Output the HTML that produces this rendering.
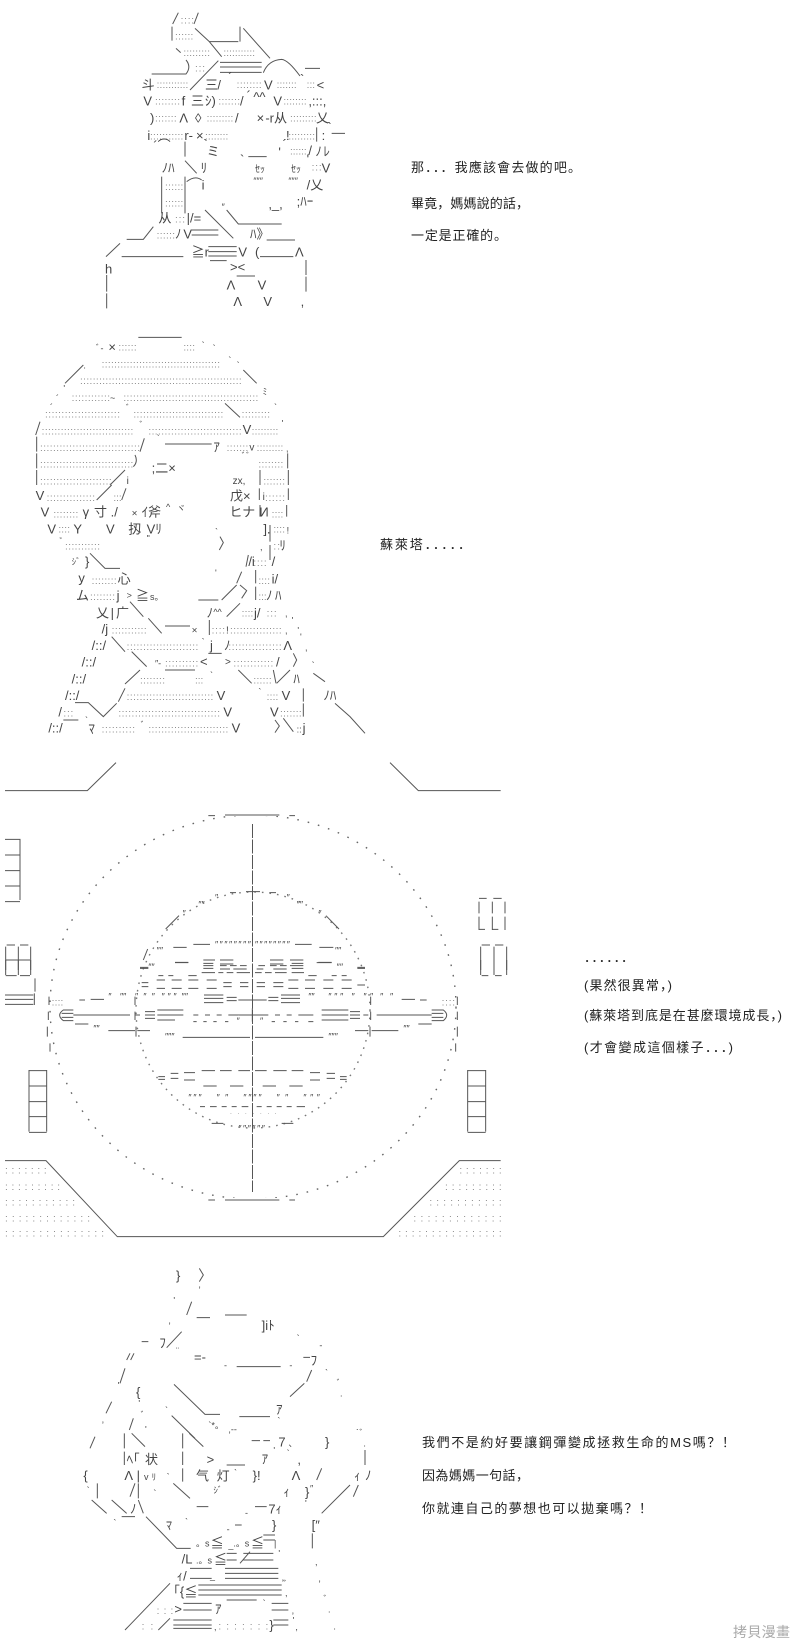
<!DOCTYPE html>
<html><head><meta charset="utf-8"><style>
html,body{margin:0;padding:0;background:#fff}
svg{display:block}
text{font-family:"Liberation Sans","Noto Sans CJK JP",sans-serif;fill:#444}
.z text{font-size:39px}
.z text.d{font-size:30px;fill:#888}
.z text.q{font-size:27px}
.s{fill:none;stroke:#555;stroke-width:3}
.b text{font-family:"Liberation Sans","Noto Sans CJK SC",sans-serif;font-size:13px;fill:#222}
</style></head><body>
<svg width="800" height="1650" viewBox="0 0 800 1650" xmlns="http://www.w3.org/2000/svg">
<rect width="800" height="1650" fill="#fff"/>

<!-- panel 1 -->
<g class="z" transform="translate(90,0) scale(.33333)">
<path class="s" d="M265 38L248 72M325 38L312 72M246 80V122M315 85L358 125H445M450 80V125M460 85L540 175M358 125L395 170M258 145L272 158M288 180Q305 200 288 222H185M390 187H515M390 201H515M390 217H515M385 182L300 270M520 218Q535 180 575 178Q595 180 630 228M645 205H690M725 400H765M680 382V425M285 425V470M285 482L320 520M475 470H530M215 530V640M285 530V640M290 545Q315 525 335 540M345 630L430 715M410 630L445 672H575M190 680L160 718H110M305 690H385M305 705H385M530 720H615M90 730L48 770M95 770H280M355 740H440M355 755H440M355 768H440M510 770H610M648 780V825M360 782H410M50 825V875M648 830V875M50 880V925M440 828H495"/>
<text class="d" x="272" y="70" textLength="40">::::</text>
<text class="d" x="255" y="118" textLength="55">::::::</text>
<text class="d" x="280" y="168" textLength="80">:::::::::</text>
<text class="d" x="400" y="168" textLength="95">:::::::::::</text>
<text class="d" x="315" y="214" textLength="30">:::</text>
<text class="d" x="200" y="264" textLength="95">:::::::::::</text>
<text class="d" x="440" y="264" textLength="75">::::::::</text>
<text class="d" x="560" y="264" textLength="60">:::::::</text>
<text class="d" x="650" y="264" textLength="25">:::</text>
<text class="d" x="195" y="314" textLength="75">::::::::</text>
<text class="d" x="385" y="314" textLength="65">:::::::</text>
<text class="d" x="580" y="314" textLength="70">::::::::</text>
<text class="d" x="195" y="364" textLength="65">:::::::</text>
<text class="d" x="350" y="364" textLength="80">:::::::::</text>
<text class="d" x="600" y="364" textLength="80">:::::::::</text>
<text class="d" x="180" y="418" textLength="100">:::::::::::</text>
<text class="d" x="345" y="418" textLength="70">::::::::</text>
<text class="d" x="595" y="418" textLength="80">:::::::::</text>
<text class="d" x="600" y="464" textLength="50">::::::</text>
<text class="d" x="665" y="512" textLength="30">:::</text>
<text class="d" x="225" y="570" textLength="55">::::::</text>
<text class="d" x="225" y="620" textLength="55">::::::</text>
<text class="d" x="255" y="668" textLength="30">:::</text>
<text class="d" x="200" y="716" textLength="55">::::::</text>
<text x="155" y="268">斗</text>
<text x="345" y="268">三</text><text x="382" y="268">/</text><text x="415" y="245">´</text>
<text x="522" y="268">V</text><text x="630" y="250">`</text><text x="680" y="268">&lt;</text>
<text x="160" y="317">V</text><text x="275" y="317">f</text><text x="303" y="317">三</text><text x="345" y="317">ｼ)</text>
<text x="450" y="317">/</text><text x="470" y="300">´</text><text x="490" y="305">^^</text><text x="550" y="317">V</text><text x="655" y="317">,:::,</text>
<text x="180" y="367">)</text><text x="268" y="367">Λ</text><text x="315" y="367">◊</text><text x="435" y="367">/</text>
<text x="500" y="367">×</text><text x="526" y="367">-r</text><text x="552" y="367">从</text><text x="678" y="367">乂</text>
<text x="172" y="420">i</text><text x="283" y="420">r-</text><text x="318" y="420">×</text><text x="588" y="420">!</text><text x="695" y="420">:</text><text x="712" y="395">`</text>
<text x="190" y="450">´⌒</text><text x="340" y="445">`</text><text x="350" y="468">ミ</text><text x="578" y="445">´</text><text x="655" y="465">/</text><text x="676" y="468">ﾉ</text><text x="700" y="468">ﾚ</text>
<text x="215" y="518">ﾉﾊ</text><text x="332" y="518">ﾘ</text><text x="450" y="492">`</text><text x="565" y="470">'</text><text x="495" y="518" style="font-size:30px">ｾｯ</text><text x="603" y="518" style="font-size:30px">ｾｯ</text><text x="650" y="490">'</text><text x="695" y="518">V</text>
<text x="490" y="552" class="q">″″″</text><text x="595" y="552" class="q">″″″</text><text x="335" y="568">i</text><text x="650" y="568">/乂</text>
<text x="535" y="625">,_,</text><text x="620" y="618">;ﾊｰ</text>
<text x="205" y="668">从</text><text x="290" y="668">|/=</text><text x="395" y="630" class="q">″</text>
<text x="255" y="716">ﾉ</text><text x="280" y="716">V</text><text x="480" y="716">ﾊ》</text>
<text x="305" y="770">≧r</text><text x="445" y="770">V</text><text x="495" y="770">(</text><text x="615" y="770">Λ</text>
<text x="45" y="820">h</text><text x="420" y="815">&gt;&lt;</text>
<text x="410" y="868">Λ</text><text x="503" y="868">V</text>
<text x="430" y="918">Λ</text><text x="520" y="918">V</text><text x="632" y="918">,</text>
</g>

<!-- panel 2 top -->
<g class="z" transform="translate(20,320) scale(.33333)">
<path class="s" d="M355 52H485M670 150L710 190M190 135L135 190M615 250L660 292M60 305L47 345M50 350V395M373 355L360 395M435 372H575M50 400V445M345 405Q355 425 340 440M803 400V445M50 450V495M315 450L270 495M720 450V495M805 450V495M275 495L230 540M318 505L305 540M718 505V540M805 505V540M720 555V590M800 555V590"/>
<text class="d" x="295" y="92" textLength="55">::::::</text>
<text class="d" x="490" y="92" textLength="35">::::</text>
<text class="d" x="245" y="142" textLength="355">::::::::::::::::::::::::::::::::::::::</text>
<text class="d" x="180" y="192" textLength="485">:::::::::::::::::::::::::::::::::::::::::::::::::::</text>
<text class="d" x="155" y="243" textLength="115">::::::::::::</text>
<text class="d" x="310" y="243" textLength="405">::::::::::::::::::::::::::::::::::::::::::</text>
<text class="d" x="75" y="292" textLength="225">:::::::::::::::::::::::</text>
<text class="d" x="340" y="292" textLength="270">::::::::::::::::::::::::::::</text>
<text class="d" x="665" y="292" textLength="85">:::::::::</text>
<text class="d" x="65" y="343" textLength="275">:::::::::::::::::::::::::::::</text>
<text class="d" x="385" y="343" textLength="280">:::::::::::::::::::::::::::::</text>
<text class="d" x="695" y="343" textLength="80">:::::::::</text>
<text class="d" x="60" y="393" textLength="300">:::::::::::::::::::::::::::::::</text>
<text class="d" x="620" y="393" textLength="65">:::::::</text>
<text class="d" x="710" y="393" textLength="80">:::::::::</text>
<text class="d" x="60" y="443" textLength="280">:::::::::::::::::::::::::::::</text>
<text class="d" x="715" y="443" textLength="75">::::::::</text>
<text class="d" x="60" y="493" textLength="215">::::::::::::::::::::::</text>
<text class="d" x="730" y="493" textLength="65">:::::::</text>
<text class="d" x="80" y="543" textLength="145">:::::::::::::::</text>
<text class="d" x="280" y="543" textLength="25">:::</text>
<text class="d" x="735" y="543" textLength="60">::::::</text>
<text class="d" x="100" y="592" textLength="75">::::::::</text>
<text class="d" x="755" y="592" textLength="35">::::</text>
<text x="228" y="95" class="q">ﾞ-</text><text x="265" y="95">×</text><text x="545" y="85" class="q">`</text><text x="578" y="95" class="q">`</text>
<text x="625" y="130" class="q">`</text><text x="650" y="145" class="q">`</text><text x="190" y="145" class="q">.</text><text x="130" y="215" class="q">'</text><text x="108" y="245" class="q">´</text><text x="728" y="225" class="q">ﾐ</text>
<text x="270" y="243" class="q">~</text><text x="90" y="272" class="q">´</text><text x="318" y="275" class="q">ﾞ</text><text x="762" y="272" class="q">`</text>
<text x="668" y="342">V</text><text x="358" y="325" class="q">ﾞ</text><text x="785" y="320" class="q">'</text>
<text x="410" y="365" class="q">`</text><text x="580" y="395">ｱ</text><text x="688" y="392" style="font-size:30px">v</text><text x="798" y="395" class="q">,</text>
<text x="395" y="457">;二×</text><text x="665" y="418" class="q">ﾞﾞ</text>
<text x="320" y="492" style="font-size:30px">i</text><text x="638" y="492" style="font-size:30px">zx,</text>
<text x="47" y="540">V</text><text x="630" y="542">戊×</text><text x="728" y="540" style="font-size:30px">i</text>
<text x="62" y="590">V</text><text x="188" y="590">γ</text><text x="222" y="590">寸</text><text x="272" y="590">./</text><text x="335" y="590" style="font-size:30px">×</text><text x="365" y="590">ｲ斧</text><text x="438" y="570" class="q">^</text><text x="470" y="575" class="q">ヾ</text><text x="628" y="590">ヒナ</text><text x="718" y="590">И</text>
</g>

<!-- panel 2 bottom -->
<g class="z" transform="translate(20,520) scale(.33333)">
<path class="s" d="M750 15V65M750 75V120M600 50L610 68L598 90M210 100L255 145H300M707 150V190M665 155L650 190M685 105L678 140M650 195L605 240M535 240H595M707 200V240M660 195L680 212L665 235M330 245L370 290M660 250L620 290M385 295L425 340M435 318H510M568 300V345M275 350L315 395M335 395L380 440M565 400H605M820 400L830 420L820 440M360 450L315 492M435 450H525M655 450L695 490M810 450L770 490M760 450L768 490M315 505L295 545M850 505V545M165 548H205L250 590L290 550M850 550V590M945 550L990 590L1035 640M130 600H175M790 595L820 635M765 600L778 618L765 638M880 460L915 485"/>
<text class="d" x="115" y="38" textLength="35">::::</text>
<text class="d" x="760" y="38" textLength="35">::::</text>
<text class="d" x="135" y="88" textLength="105">:::::::::::</text>
<text class="d" x="760" y="88" textLength="20">::</text>
<text class="d" x="700" y="138" textLength="40">::::</text>
<text class="d" x="215" y="192" textLength="75">::::::::</text>
<text class="d" x="715" y="192" textLength="35">::::</text>
<text class="d" x="210" y="240" textLength="75">::::::::</text>
<text class="d" x="715" y="240" textLength="25">:::</text>
<text class="d" x="665" y="290" textLength="35">::::</text>
<text class="d" x="740" y="290" textLength="30">:::</text>
<text class="d" x="275" y="340" textLength="105">:::::::::::</text>
<text class="d" x="575" y="340" textLength="40">::::</text>
<text class="d" x="630" y="340" textLength="155">::::::::::::::::</text>
<text class="d" x="320" y="390" textLength="215">::::::::::::::::::::::</text>
<text class="d" x="625" y="390" textLength="160">::::::::::::::::</text>
<text class="d" x="435" y="440" textLength="100">::::::::::</text>
<text class="d" x="640" y="440" textLength="120">::::::::::::</text>
<text class="d" x="360" y="490" textLength="75">::::::::</text>
<text class="d" x="525" y="490" textLength="25">:::</text>
<text class="d" x="700" y="490" textLength="55">::::::</text>
<text class="d" x="320" y="540" textLength="260">:::::::::::::::::::::::::::</text>
<text class="d" x="740" y="540" textLength="35">::::</text>
<text class="d" x="130" y="590" textLength="30">:::</text>
<text class="d" x="295" y="590" textLength="305">:::::::::::::::::::::::::::::::</text>
<text class="d" x="780" y="590" textLength="65">:::::::</text>
<text class="d" x="245" y="638" textLength="100">::::::::::</text>
<text class="d" x="385" y="638" textLength="240">:::::::::::::::::::::::::</text>
<text x="82" y="40">V</text><text x="160" y="40">Y</text><text x="258" y="40">V</text><text x="325" y="40">扨</text><text x="380" y="40">Vﾘ</text><text x="730" y="40">].</text><text x="800" y="40" class="q">!</text>
<text x="380" y="65" class="q">"</text><text x="585" y="45" class="q">`</text><text x="118" y="75" class="q">ﾞ</text><text x="720" y="90" class="q">,</text><text x="778" y="90">ﾘ</text>
<text x="155" y="135" class="q">ｼﾞ</text><text x="195" y="138">}</text><text x="685" y="138">/i</text><text x="755" y="138">/</text>
<text x="175" y="188">y</text><text x="293" y="190">心</text><text x="585" y="168" class="q">'</text><text x="755" y="190">i/</text>
<text x="168" y="240">ム</text><text x="290" y="240">j</text><text x="320" y="235" class="q">&gt;</text><text x="348" y="240">≧</text><text x="390" y="240" class="q">s。</text><text x="738" y="240">ﾉ</text><text x="765" y="240">ﾊ</text>
<text x="228" y="292">乂</text><text x="272" y="292">|</text><text x="288" y="292">广</text><text x="560" y="292">ﾉ</text><text x="580" y="285" class="q">^^</text><text x="702" y="292">j/</text><text x="795" y="290" class="q">,</text>
<text x="245" y="340">/j</text><text x="515" y="340" style="font-size:30px">×</text><text x="618" y="340" style="font-size:30px">!</text><text x="795" y="340" class="q">,</text><text x="815" y="310" class="q">'</text><text x="832" y="340" class="q">'</text>
<text x="215" y="390">/::/</text><text x="545" y="375" class="q">`</text><text x="570" y="390">j</text><text x="612" y="390">ﾉ</text><text x="790" y="390">Λ</text><text x="840" y="360" class="q">'</text><text x="855" y="392" class="q">,</text>
<text x="185" y="440">/::/</text><text x="405" y="440" class="q">″-</text><text x="540" y="438">&lt;</text><text x="615" y="435" style="font-size:30px">&gt;</text><text x="768" y="440">/</text>
<text x="155" y="490">/::/</text><text x="570" y="475" class="q">`</text><text x="820" y="490">ﾊ</text><text x="875" y="445" class="q">`</text>
<text x="135" y="540">/::/</text><text x="715" y="525" class="q">`</text><text x="590" y="540">V</text><text x="785" y="540">V</text><text x="910" y="540">ﾉﾊ</text>
<text x="115" y="590">/</text><text x="610" y="590">V</text><text x="750" y="590">V</text>
<text x="85" y="638">/::/</text><text x="195" y="610" class="q">`</text><text x="205" y="640">ﾏ</text><text x="362" y="625" class="q">ﾞ</text><text x="635" y="638">V</text><text x="830" y="638" class="q">::</text><text x="848" y="638">j</text>
</g>

<!-- panel 3 circles -->
<ellipse cx="253" cy="1007" rx="203" ry="192" fill="none" stroke="#666" stroke-width="1.4" stroke-dasharray="1.6 9"/>
<ellipse cx="253" cy="1010" rx="117" ry="118" fill="none" stroke="#777" stroke-width="1.4" stroke-dasharray="1.6 6"/>
<line x1="252.5" y1="824" x2="252.5" y2="1192" stroke="#555" stroke-width="1" stroke-dasharray="14 1.5"/>
<rect x="200" y="808" width="106" height="8" fill="#fff"/>
<rect x="200" y="1198" width="106" height="7" fill="#fff"/>

<g class="z" transform="translate(0,750) scale(.33333)">
<path class="s" d="M15 122H262L348 38M1502 122H1255L1170 38M625 197H645M675 195H838M868 197H885M15 268H60V450M15 315H60M15 362H60M15 408H60M15 455H60M1437 445H1460M1480 445H1505M1437 455V490M1477 455V490M1515 455V490M1437 500V540M1477 500V540M1515 500V540M1437 538H1455M1477 538H1495M1445 585H1470M1485 585H1510M1442 590V660M1482 590V660M1520 590V660M17 590V660M55 590V660M92 590V660M17 630H90M20 585H45M60 585H85M690 428H708M738 425H780M808 428H828M978 497L1017 537M537 497L497 537M520 592H560M580 583H630M885 583H935M958 592H1000M443 597L430 630M525 637H565M610 630H645M610 647H640M660 630H700M660 647H680M690 647H710M720 647H740M775 647H795M810 630H850M810 647H830M840 647H860M870 630H910M870 647H910M955 637H995M420 652H445M1072 652H1095"/>
<text class="q" x="470" y="610">″″</text><text class="q" x="645" y="592" textLength="108">″″″″″″″″</text><text class="q" x="765" y="592" textLength="105">″″″″″″″″</text><text class="q" x="1005" y="610">″″</text>
<text class="q" x="645" y="452">″</text><text class="q" x="595" y="472">″″</text><text class="q" x="860" y="452">″</text><text class="q" x="890" y="472">″″</text><text class="q" x="548" y="500">″</text><text class="q" x="955" y="500">″</text>
</g>

<g class="z" transform="translate(0,960) scale(.33333)">
<path class="s" d="M17 0V45M55 0V45M92 0V45M17 47H50M60 47H90M1442 0V45M1482 0V45M1520 0V45M1445 47H1465M1485 47H1505M15 105H100M15 118H100M15 133H100M105 55V95M103 100V135M525 8H565M610 10H640M610 25H640M660 12H700M660 27H690M700 27H740M770 27H790M810 12H850M820 27H860M875 10H910M875 25H910M950 8H995M420 25H445M1072 25H1095M605 38H645M655 38H670M680 38H700M710 38H750M765 38H785M795 38H815M825 38H860M875 38H912M475 47H490M505 47H520M565 47H590M925 47H950M995 47H1010M1025 47H1040M470 60H495M470 85H495M515 60H545M515 85H545M565 60H595M565 85H595M620 60H650M620 85H650M670 68H695M670 80H695M720 68H745M720 80H745M770 68H795M770 80H795M820 68H850M820 80H850M865 60H895M865 85H895M915 60H945M915 85H945M970 60H1000M970 85H1000M1025 60H1055M1025 85H1055M1072 75H1095M425 68H445M425 80H445M238 120H255M272 118H312M612 105H670M612 115H670M612 128H670M680 112H710M680 122H710M715 120H800M805 112H835M805 122H835M843 105H900M843 115H900M843 128H900M1205 118H1245M1260 120H1280M220 150H190Q168 165 190 182H220M185 160H220M185 172H220M220 165H390M405 110V135M405 155V180M405 165H420M435 155H465M435 165H465M435 175H465M472 150H525M472 165H525M472 180H525M525 150H550M525 165H550M580 165H595M615 165H630M650 165H665M685 165H715M715 165H800M757 145V185M790 165H805M825 165H840M860 165H875M895 165H940M965 150H1045M965 165H1045M965 180H1045M1050 155H1080M1050 165H1080M1050 175H1080M1090 165H1105M1112 110V135M1112 155V180M1130 165H1295M1295 150H1330Q1350 165 1330 182H1295M1295 160H1330M1295 172H1330M145 155V180M1372 110V135M1372 155V180M147 110V135M225 192H265M325 212H405M408 200V230M412 212H450M548 232H750M765 232H970M1065 212H1105M1110 200V230M1115 212H1195M1255 192H1295M142 200V230M1372 200V230M150 250V275M1367 250V275M580 185H590M610 185H620M640 185H650M675 185H685M815 185H825M850 185H860M885 185H895M925 185H940M475 350H495M475 358H495M512 340H535M512 355H535M552 338H585M552 360H585M605 332H645M660 332H695M715 332H750M765 332H800M820 332H860M875 332H910M930 338H960M930 360H960M980 340H1005M980 355H1005M1020 350H1040M1020 358H1040M610 378H650M690 378H730M788 378H828M868 378H908M600 440H615M630 440H650M665 440H680M695 440H710M725 440H745M770 440H785M800 440H815M830 440H845M860 440H875M890 440H915M635 490H670M845 490H880M87 330V515M140 330V515M87 332H140M87 378H140M87 425H140M87 470H140M87 517H140M1403 330V515M1457 330V515M1403 332H1457M1403 378H1457M1403 425H1457M1403 470H1457M1403 517H1457M15 602H138L352 830H1150L1378 602H1502M675 720H838M625 720H645M868 720H885"/>
<text class="d" x="155" y="136" textLength="35">::::</text><text class="d" x="1325" y="136" textLength="40">::::</text>
<text class="q" x="325" y="118">″</text><text class="q" x="360" y="118">″″</text><text class="q" x="405" y="118" textLength="60">″″″</text><text class="q" x="485" y="118" textLength="45">″″″</text><text class="q" x="545" y="118">″″</text><text class="q" x="925" y="118">″″</text><text class="q" x="985" y="118" textLength="45">″″″</text><text class="q" x="1055" y="118" textLength="45">″″</text><text class="q" x="1110" y="118" textLength="40">″″</text><text class="q" x="1170" y="118">″</text>
<text class="q" x="280" y="215">″″</text><text class="q" x="1210" y="215">″″</text><text class="q" x="495" y="238">″″″</text><text class="q" x="985" y="238">″″″</text><text class="q" x="710" y="192">″</text><text class="q" x="780" y="192">″</text>
<text class="q" x="565" y="422" textLength="40">″″″</text><text class="q" x="650" y="422" textLength="35">″″</text><text class="q" x="730" y="422" textLength="55">″″″″</text><text class="q" x="830" y="422" textLength="35">″″</text><text class="q" x="910" y="422" textLength="50">″″″</text><text class="q" x="715" y="515" textLength="80">″″″″″″</text>
<text class="q" x="445" y="30">″″</text><text class="q" x="1010" y="30">″″</text>
<text class="d" x="690" y="462" textLength="140" style="font-size:20px">. . . . . . .</text>
<text class="d" x="15" y="640" textLength="125">: : : : : : :</text>
<text class="d" x="15" y="690" textLength="165">: : : : : : : : :</text>
<text class="d" x="15" y="736" textLength="210">: : : : : : : : : : :</text>
<text class="d" x="15" y="784" textLength="255">: : : : : : : : : : : : :</text>
<text class="d" x="15" y="830" textLength="297">: : : : : : : : : : : : : : :</text>
<text class="d" x="1378" y="640" textLength="127">: : : : : : :</text>
<text class="d" x="1335" y="690" textLength="170">: : : : : : : : :</text>
<text class="d" x="1288" y="736" textLength="217">: : : : : : : : : : :</text>
<text class="d" x="1240" y="784" textLength="265">: : : : : : : : : : : : :</text>
<text class="d" x="1195" y="830" textLength="310">: : : : : : : : : : : : : : : :</text>
</g>

<!-- panel 4 -->
<g class="z" transform="translate(70,1250) scale(.33333)">
<path class="s" d="M388 55L400 75L388 95M365 155L350 195M380 203H420M465 195H530M335 245L290 293M215 275H235M180 310L170 330M192 310L182 330M165 355L150 400M725 360L710 395M312 403L405 493H450M703 400L660 440M125 455L108 490M508 500H600M190 505L178 540M305 497L375 565M75 560L60 595M163 550V595M185 550L225 590M338 550V595M358 550L400 590M545 572H570M580 572H600M500 350H632M700 322H720"/>
<text x="318" y="90">}</text><text x="310" y="160" class="q">'</text><text x="295" y="220" class="q">,</text><text x="575" y="240">]iﾄ</text><text x="385" y="112" class="q">,</text>
<text x="268" y="292">ﾌ</text><text x="680" y="275" class="q">`</text><text x="748" y="295" class="q">-</text><text x="318" y="312" class="q">¨</text><text x="372" y="335">=-</text><text x="462" y="355" class="q">-</text><text x="658" y="355" class="q">-</text><text x="722" y="345">ﾌ</text>
<text x="765" y="378" class="q">`</text><text x="143" y="415" class="q">'</text><text x="198" y="440">{</text><text x="800" y="410" class="q">ﾞ</text><text x="810" y="440" class="q">.</text><text x="618" y="492">ｱ</text><text x="205" y="470" class="q">'</text><text x="95" y="518" class="q">,</text><text x="212" y="505" class="q">ﾞ</text><text x="285" y="490" class="q">`</text><text x="225" y="548" class="q">'</text>
<text x="415" y="535" class="q">`*。</text><text x="475" y="548" class="q">,--</text><text x="622" y="522" class="q">`</text><text x="858" y="540" class="q">.</text><text x="868" y="560" class="q">ﾞ</text><text x="625" y="590">7</text><text x="655" y="590" class="q">、</text><text x="765" y="590">}</text><text x="880" y="590" class="q">.</text>
</g>

<g class="z" transform="translate(70,1450) scale(.33333)">
<path class="s" d="M163 5V45M338 5V45M885 0V45M470 45H525M338 55V95M755 55L740 90M82 100V145M195 100L180 140M205 100V145M310 100L360 145M865 105L850 140M840 105L755 190M65 150L110 190M125 150L170 190M205 150L220 190M380 170H415M555 170H590M155 200H195M228 200L320 295H362M495 225H515M727 250V295M540 305L510 340M300 400L165 540M470 450H560M300 505L265 540M360 355H425M360 385H425M465 355H625M465 370H625M465 385H625M385 405H635M385 420H635M385 435H635M340 460H425M340 480H425M605 460H655M605 480H655M310 510H425M310 525H425M310 535H425M610 510H655M610 525H655M520 310H610M520 330H610M470 310H500M470 330H500M580 255H615M580 270H615"/>
<text x="170" y="42">ﾍ｢</text><text x="225" y="42">状</text><text x="410" y="42">&gt;</text><text x="575" y="40">ｱ</text><text x="650" y="20" class="q">`</text><text x="682" y="42">,</text><text x="610" y="10" class="q">'</text>
<text x="40" y="90">{</text><text x="163" y="90">Λ</text><text x="200" y="90">|</text><text x="222" y="90" class="q">v</text><text x="245" y="90" class="q">ﾘ</text><text x="290" y="90" class="q">`</text><text x="378" y="92">气</text><text x="440" y="92">灯</text><text x="492" y="78" class="q">`</text><text x="548" y="90">}!</text><text x="665" y="90">Λ</text><text x="852" y="92">ｨ</text><text x="885" y="90">ﾉ</text>
<text x="50" y="130" class="q">`</text><text x="250" y="140" class="q">`</text><text x="430" y="130" class="q">ｼﾞ</text><text x="640" y="140">ｨ</text><text x="705" y="140">}</text><text x="720" y="125" class="q">″</text>
<text x="180" y="190">ﾉ</text><text x="705" y="170" class="q">'</text><text x="525" y="198" class="q">-</text><text x="595" y="190">7ｨ</text><text x="130" y="228" class="q">`</text><text x="288" y="238" style="font-size:36px">ﾏ</text><text x="345" y="225" class="q">`</text><text x="470" y="248" class="q">-</text><text x="606" y="238">}</text><text x="725" y="238">[″</text>
<text x="378" y="290" class="q">。s</text><text x="422" y="292">≦</text><text x="475" y="292" class="q">_</text><text x="490" y="290" class="q">.。s</text><text x="543" y="292">≦</text><text x="612" y="290" class="q">|</text>
<text x="335" y="340">/L</text><text x="378" y="340" class="q">.。s</text><text x="432" y="342">≦</text><text x="625" y="320" class="q">'</text><text x="735" y="345" class="q">,</text>
<text x="320" y="392">ｨ/</text><text x="635" y="392" class="q">,</text><text x="745" y="395" class="q">,</text><text x="420" y="385" class="q">_</text>
<text x="310" y="438">｢{</text><text x="343" y="440">≦</text><text x="645" y="438" class="q">,</text><text x="640" y="412" class="q">ﾞ</text><text x="760" y="458" class="q">ﾞ</text>
<text class="d" x="260" y="492" textLength="50">: : :</text><text x="313" y="490">&gt;</text><text x="435" y="490">ｱ</text><text x="578" y="470" class="q">`</text><text x="665" y="490" class="q">,</text><text x="774" y="488" class="q">.</text>
<text class="d" x="215" y="538" textLength="35">: :</text><text x="432" y="540" class="q">,</text><text class="d" x="445" y="538" textLength="150">: : : : : : :</text><text x="598" y="538">}</text><text x="668" y="520" class="q">'</text><text x="676" y="540" class="q">,</text><text x="790" y="538" class="q">.</text>
</g>

<!-- captions -->
<g class="b">
<text x="411" y="172" textLength="170">那．．．我應該會去做的吧。</text>
<text x="411" y="208" textLength="118">畢竟，媽媽說的話，</text>
<text x="411" y="240" textLength="96">一定是正確的。</text>
<text x="380" y="549" textLength="91">蘇萊塔．．．．．</text>
<text x="584" y="962" textLength="50">．．．．．．</text>
<text x="584" y="990" textLength="88">(果然很異常，)</text>
<text x="584" y="1020" textLength="198">(蘇萊塔到底是在甚麼環境成長，)</text>
<text x="584" y="1052" textLength="149">(才會變成這個樣子．．．)</text>
<text x="422" y="1447" textLength="313">我們不是約好要讓鋼彈變成拯救生命的MS嗎？！</text>
<text x="422" y="1480" textLength="107">因為媽媽一句話，</text>
<text x="422" y="1513" textLength="230">你就連自己的夢想也可以拋棄嗎？！</text>
<text x="733" y="1637" textLength="57" style="font-size:14px;fill:#aaa">拷貝漫畫</text>
</g>
</svg>
</body></html>
